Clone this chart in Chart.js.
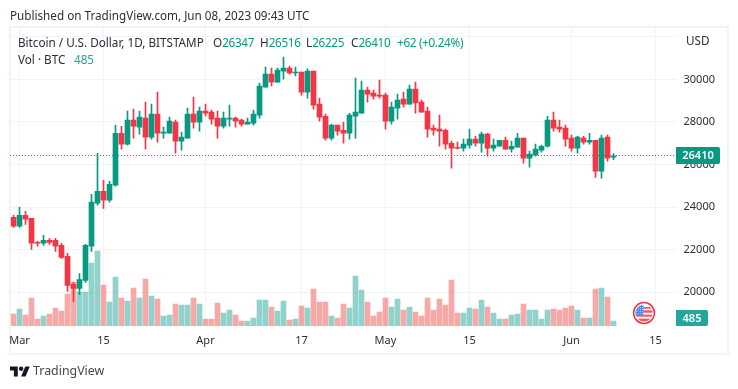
<!DOCTYPE html>
<html>
<head>
<meta charset="utf-8">
<title>BTCUSD</title>
<script src="https://cdn.jsdelivr.net/npm/chart.js@4"></script>
<style>
    html, body { margin: 0; padding: 0; background: #fff; }
    #page { position: relative; width: 738px; height: 389px; overflow: hidden; font-family: "Noto Sans", sans-serif; color: #131722; font-size: 11.7px; }
    #frame { position: absolute; left: 9px; top: 26px; width: 716px; height: 325px; border: 2px solid #f0f3fa; }
    canvas { position: absolute; left: 0; top: 0; }
    .txt { position: absolute; white-space: nowrap; line-height: 16px; color: #2a2e39; }
    .up { color: #089981; letter-spacing: -0.3px; }
    .vol { color: #26a69a; }
</style>
</head>
<body>
<div id="page">
    <div id="frame"></div>
    <canvas id="myChart" width="738" height="389"></canvas>
    <div class="txt" style="left:10px;top:7px">Published on TradingView.com, Jun 08, 2023 09:43 UTC</div>
    <div class="txt" style="left:18px;top:34px">Bitcoin / U.S. Dollar, 1D, BITSTAMP</div>
    <div class="txt" style="left:213px;top:34px">O<span class="up">26347</span></div>
    <div class="txt" style="left:260px;top:34px">H<span class="up">26516</span></div>
    <div class="txt" style="left:306px;top:34px">L<span class="up">26225</span></div>
    <div class="txt" style="left:351px;top:34px">C<span class="up">26410</span></div>
    <div class="txt up" style="left:397px;top:34px">+62 (+0.24%)</div>
    <div class="txt" style="left:18px;top:51px">Vol · BTC</div>
    <div class="txt vol" style="left:74px;top:51px">485</div>
    <div class="txt" style="left:686px;top:32px">USD</div>
    <svg style="position:absolute;left:632px;top:300.5px" width="24" height="24" viewBox="0 0 24 24">
        <defs>
            <clipPath id="c"><circle cx="12" cy="12" r="8.6"/></clipPath>
            <pattern id="stars" width="2" height="2" patternUnits="userSpaceOnUse"><rect width="2" height="2" fill="#3f8fe8"/><rect width="0.8" height="0.8" fill="#d6e8fb"/></pattern>
        </defs>
        <circle cx="12" cy="12" r="10.4" fill="#fff" stroke="#f23645" stroke-width="1.5"/>
        <g clip-path="url(#c)">
            <rect x="3" y="6" width="18" height="1.7" fill="#f7525f"/>
            <rect x="11" y="9.3" width="10" height="2.4" fill="#f7525f"/>
            <rect x="3" y="13.7" width="18" height="2" fill="#f7525f"/>
            <rect x="3" y="17.7" width="18" height="3" fill="#f7525f"/>
            <rect x="3" y="3" width="8.3" height="11.3" fill="url(#stars)"/>
        </g>
    </svg>
    <svg style="position:absolute;left:10px;top:365px" width="20" height="13" viewBox="0 2 36 22">
        <path d="M14 22H7V11H0V4h14v18zM28 22h-8l7.5-18h8L28 22z" fill="#131722"/>
        <circle cx="20" cy="8" r="4" fill="#131722"/>
    </svg>
    <div class="txt" style="left:33px;top:362px;font-size:12.4px;line-height:18px;color:#434651">TradingView</div>
</div>
<script>
"use strict";

// ---- data ----
const startDate = [2023, 1, 28];
const totalDays = 111;
const opens = [23520,23100,23610,23470,22340,22300,22440,22440,22200,21690,20370,20180,20550,22160,24180,24740,24320,25030,27470,26960,
    28090,27760,28180,27290,28370,27470,27470,27990,27100,27240,28370,27990,28510,28460,28180,27800,28130,28180,28090,27900,
    27940,28320,29640,30250,29870,30390,30530,30300,30340,29400,30390,28840,28270,27240,27850,27610,27470,28270,28410,29500,
    29360,29260,29260,28040,28650,29070,28840,29540,28930,28510,27710,27660,27610,27000,26810,26770,26910,27190,27000,27430,
    26770,26860,27140,26720,26810,27240,26300,26440,26670,26860,28090,27760,27710,27240,26770,27240,27050,27140,25690,27290,26347];
const closes = [23100,23610,23430,22300,22300,22440,22340,22160,21640,20320,20180,20600,22200,24230,24740,24320,25070,27470,26960,28090,
    27800,28230,27290,28370,27470,27520,28040,27100,27290,28370,27990,28510,28410,28130,27800,28180,28180,28040,27900,27990,
    28370,29690,30250,29870,30440,30530,30300,30340,29400,30390,28790,28230,27240,27850,27570,27470,28320,28460,29500,29310,
    29210,29210,28040,28700,29030,28840,29540,28890,28460,27660,27610,27570,26960,26770,26770,26960,27190,27000,27430,26770,
    26910,27140,26720,26860,27240,26300,26490,26720,26860,28090,27710,27660,27190,26770,27290,27050,27140,25690,27240,26300,26410];
const highs = [23610,23990,23800,23470,22390,22670,22530,22530,22300,21830,20460,20880,22250,24600,26530,25260,25210,27850,27800,28510,
    28600,28510,28930,28840,29400,27760,28230,28090,27520,28650,29170,28700,28840,28560,28510,28460,28790,28230,28130,28180,
    28560,29830,30580,30530,30530,31050,30630,30580,30340,30490,30390,29120,28370,27900,27850,27990,28410,30060,29920,29640,
    29500,29970,29360,28930,29310,29400,29730,29870,29030,28700,27850,28320,27660,27100,27050,27190,27660,27330,27520,27470,
    27190,27140,27290,27100,27470,27240,26630,26960,26910,28270,28460,28090,27850,27380,27330,27330,27470,27140,27380,27380,26516];
const lows = [23050,23050,23190,22010,22160,22200,22250,21920,21590,20040,19570,19900,20460,21920,24090,23940,24230,24980,26720,26910,
    27240,27430,26720,27190,27050,27240,27470,26530,26670,27240,27710,27570,28270,27900,27240,27710,27800,27760,27800,27900,
    27850,28180,29640,29690,29870,30010,30250,30160,29260,29120,28600,28040,27140,27140,27380,27000,27190,27240,28410,28930,
    29070,29120,27660,27900,28130,28700,28840,28410,28460,27290,27380,26860,26720,25830,26720,26630,26770,26860,26580,26390,
    26630,26860,26720,26580,26810,26060,25870,26390,26580,26810,27570,27520,26860,26630,26530,26960,26960,25400,25360,26160,26225];
const volumes = [1200,1700,1100,2800,700,1000,1200,1800,1500,3200,4400,3400,3400,6300,7500,4100,2400,4900,2800,2500,
    3800,2800,4700,3000,2700,1000,1100,2200,2100,2100,2800,2200,700,700,2300,1300,1600,1100,500,500,
    800,2600,2600,1900,1500,2500,600,700,2000,1800,3700,2400,2400,1000,800,2200,1800,5000,3600,2400,
    1000,1400,2800,1900,2700,1600,1900,1400,1000,2800,1600,2700,2100,4600,1300,1300,1800,1700,2600,1900,
    1300,700,700,1100,1200,2200,1600,1600,700,1600,1700,1600,1800,2000,1600,800,800,3700,3800,2900,485];
const priceTicks = [20000,22000,24000,26000,28000,30000,32000];
const dateTicks = {"Mar 1":"Mar", "Mar 15":"15", "Apr 1":"Apr", "Apr 17":"17", "May 1":"May", "May 15":"15", "Jun 1":"Jun", "Jun 15":"15"};
const lastPrice = 26410;
const lastVolume = 485;

// ---- colours ----
const upColor = "#089981", downColor = "#f23645";
const upVol = "rgba(38,166,154,0.5)", downVol = "rgba(239,83,80,0.5)";
const gridColor = "#f0f3fa", textColor = "#2a2e39";
const tickFont = {family: '"Noto Sans", sans-serif', size: 11};

let days = [];
for (let i = 0; i < totalDays; i++) {
    let d = new Date(startDate[0], startDate[1], startDate[2] + i);
    days.push(d.toLocaleString("en-US", {month: "short"}) + " " + d.getDate());
}

let bodies = [], wicks = [], candleColors = [], volColors = [];
for (let i = 0; i < opens.length; i++) {
    bodies.push([opens[i], closes[i]]);
    wicks.push([lows[i], highs[i]]);
    candleColors.push(closes[i] >= opens[i] ? upColor : downColor);
    volColors.push(closes[i] >= opens[i] ? upVol : downVol);
}

// price line and the two value boxes on the right
const priceMarks = {
    id: "priceMarks",
    afterDatasetsDraw(chart) {
        let ctx = chart.ctx, area = chart.chartArea;
        let y = Math.floor(chart.scales.y.getPixelForValue(lastPrice));
        ctx.save();
        ctx.strokeStyle = upColor;
        ctx.setLineDash([1, 2]);
        ctx.beginPath();
        ctx.moveTo(Math.floor(area.left), y + 0.5);
        ctx.lineTo(Math.floor(area.right), y + 0.5);
        ctx.stroke();
        ctx.setLineDash([]);
        valueBox(ctx, Math.floor(area.right), y - 8, 44, 17, upColor, String(lastPrice));
        valueBox(ctx, Math.floor(area.right), area.bottom - 16, 32, 16, "#26a69a", String(lastVolume));
        ctx.restore();
    }
};

function valueBox(ctx, x, y, w, h, color, label) {
    ctx.fillStyle = color;
    ctx.beginPath();
    ctx.roundRect(x, y, w, h, [0, 2, 2, 0]);
    ctx.fill();
    ctx.fillStyle = "#fff";
    ctx.font = '600 11px "Noto Sans", sans-serif';
    ctx.textAlign = "center";
    ctx.textBaseline = "middle";
    ctx.fillText(label, x + w / 2, y + h / 2 + 0.5);
}

let myChart = new Chart(document.getElementById("myChart"), {
    type: "bar",
    data: {
        labels: days,
        datasets: [
            {label: "Body", data: bodies, backgroundColor: candleColors, barThickness: 5, grouped: false, order: 1, yAxisID: "y"},
            {label: "Wick", data: wicks, backgroundColor: candleColors, barThickness: 1, grouped: false, order: 2, yAxisID: "y"},
            {label: "Vol", data: volumes, backgroundColor: volColors, barThickness: 5, grouped: false, order: 3, yAxisID: "yVol"}
        ]
    },
    options: {
        responsive: false,
        animation: false,
        events: [],
        layout: {padding: {left: 10.5, right: 10, top: 28, bottom: 36}},
        plugins: {legend: {display: false}, tooltip: {enabled: false}},
        scales: {
            x: {
                offset: true,
                grid: {color: gridColor, offset: false, drawTicks: false},
                border: {display: false},
                ticks: {
                    color: textColor, font: tickFont, autoSkip: false, maxRotation: 0, padding: 8,
                    callback: function (value) { return dateTicks[this.getLabelForValue(value)]; }
                },
                afterBuildTicks: function (axis) {
                    axis.ticks = days.map(function (d, i) { return {value: i}; })
                        .filter(function (t) { return days[t.value] in dateTicks; });
                },
                afterFit: function (axis) { axis.height = 27; }
            },
            y: {
                position: "right",
                min: 18414, max: 32414,
                grid: {color: gridColor, drawTicks: false},
                border: {display: false},
                ticks: {
                    color: textColor, font: tickFont, padding: 7,
                    callback: function (value) { return value >= 32000 ? "" : String(value); }
                },
                afterBuildTicks: function (axis) {
                    axis.ticks = priceTicks.map(function (v) { return {value: v}; });
                },
                afterFit: function (axis) { axis.width = 51.5; }
            },
            yVol: {display: false, min: 0, max: 29800}
        }
    },
    plugins: [priceMarks]
});
</script>
</body>
</html>
